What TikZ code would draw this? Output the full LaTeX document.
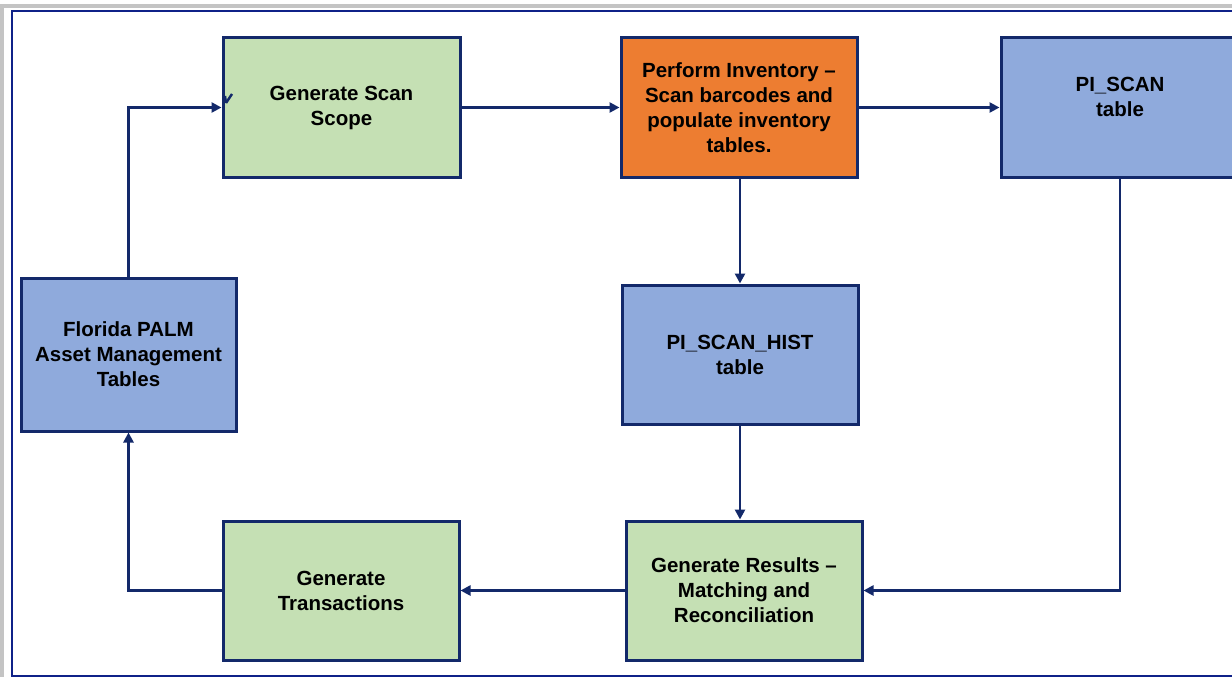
\documentclass[tikz,border=0pt]{standalone}
\usepackage{fontspec}
\setmainfont{Liberation Sans}
\usetikzlibrary{arrows.meta}
\definecolor{navy}{HTML}{13296A}
\definecolor{boxgreen}{HTML}{C5E0B4}
\definecolor{boxorange}{HTML}{ED7D31}
\definecolor{boxblue}{HTML}{8FAADC}
\definecolor{framegray}{HTML}{C4C4C4}
\tikzset{
  box/.style={draw=navy, line width=3pt, inner sep=0pt, align=center,
    font=\bfseries\fontsize{20.5}{25}\selectfont, text=black},
  conn/.style={draw=navy, line width=2.8pt, -{Triangle[length=10pt,width=10pt]}},
  plain/.style={draw=navy, line width=2.8pt}
}
\begin{document}
\begin{tikzpicture}[x=1pt,y=-1pt]
\useasboundingbox (0,0) rectangle (1232,677);
\clip (0,0) rectangle (1232,677);
\fill[white] (0,0) rectangle (1232,677);
% outer frames
\draw[framegray, line width=3.5pt] (2,6) rectangle (1245,695);
\draw[navy!80!blue, line width=2.2pt] (12,11) rectangle (1245,676);
% boxes
\node[box, fill=boxgreen, minimum width=237pt, minimum height=139pt] (scope) at (341.5,107.5) {Generate Scan\\Scope};
\node[box, fill=boxorange, minimum width=236pt, minimum height=139pt] (inv) at (739,107.5) {Perform Inventory --\\Scan barcodes and\\populate inventory\\tables.};
\node[box, fill=boxblue, minimum width=240pt, minimum height=139pt] (scan) at (1121,107.5) {};
\node[font=\bfseries\fontsize{20.5}{25}\selectfont, align=center] (scantext) at (1120,96.5) {PI\_SCAN\\table};
\node[box, fill=boxblue, minimum width=215pt, minimum height=153pt] (florida) at (128.5,354.5) {Florida PALM\\Asset Management\\Tables};
\node[box, fill=boxblue, minimum width=236pt, minimum height=139pt] (hist) at (740,354.5) {PI\_SCAN\_HIST\\table};
\node[box, fill=boxgreen, minimum width=236pt, minimum height=139pt] (trans) at (341,590.5) {Generate\\Transactions};
\node[box, fill=boxgreen, minimum width=236pt, minimum height=139pt] (results) at (744,590.5) {Generate Results --\\Matching and\\Reconciliation};
% connectors
\draw[conn] (florida.north) |- (scope.west);
\draw[conn] (scope.east) -- (inv.west);
\draw[conn] (inv.east) -- (scan.west);
\draw[conn] (hist.north |- inv.south) -- (hist.north);
\draw[conn] (hist.south) -- (hist.south |- results.north);
\draw[conn] (scan.south -| scantext) |- (results.east);
\draw[conn] (results.west) -- (trans.east);
\draw[conn] (trans.west) -| (florida.south);
% small stray mark
\coordinate (tickA) at (232,94);
\coordinate (tickB) at (226,103);
\draw[plain, line width=2.4pt] (tickA) -- (tickB);
\draw[plain, line width=2.4pt] (tickB) -- (225,96);
\end{tikzpicture}
\end{document}
